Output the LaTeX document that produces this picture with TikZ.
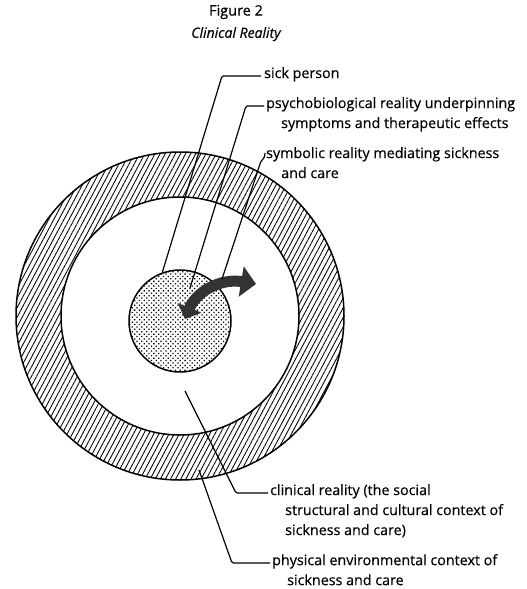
\documentclass[tikz,border=0pt]{standalone}
\usepackage{fontspec}
\setmainfont{Open Sans}[FakeBold=0.4]
\usetikzlibrary{patterns.meta,arrows.meta,positioning}

\begin{document}
\begin{tikzpicture}[
    x=1pt, y=-1pt,
    ring/.style={circle, draw, line width=1.5pt, inner sep=0pt},
    lbl/.style={inner sep=0pt, anchor=north west, align=left, font=\fontsize{14.3}{20}\selectfont},
    lead/.style={line width=1.2pt, rounded corners=1.5pt},
    twoway/.style={line width=11pt, draw=black!80, {Triangle[width=25pt,length=12pt]}-{Triangle[width=30pt,length=15pt]}}
]
\useasboundingbox (0,0) rectangle (527,589);

% title
\node[font=\fontsize{14.5}{16}\selectfont] (fig) at (236,12) {Figure 2};
\node[font=\itshape\fontsize{14}{16}\selectfont, below=1pt of fig] (title) {Clinical Reality};

% circles
\coordinate (c) at (180,316);
\node[ring, minimum size=328pt, pattern={Lines[angle=62,distance=4.5pt,line width=0.85pt]}] (outer) at (c) {};
\node[ring, minimum size=238pt, fill=white] (inner) at (c) {};
\node[ring, minimum size=102pt, pattern={Dots[distance=3.4pt,radius=0.9pt,angle=45]}] (person) at (180,321) {};

% two-way arrow
\coordinate (arr-a) at (185,319);
\coordinate (arr-b) at (256,284);
\draw[twoway] (arr-a) .. controls (196,292) and (220,278) .. (arr-b);

% labels
\node[lbl] (sick) at (264,67) {sick person};
\node[lbl] (psy) at (266,97) {psychobiological reality underpinning\\\hspace{1.05em}symptoms and therapeutic effects};
\node[lbl] (sym) at (266,147) {symbolic reality mediating sickness\\\hspace{1.05em}and care};
\node[lbl] (clin) at (270,484) {clinical reality (the social\\\hspace{1.05em}structural and cultural context of\\\hspace{1.05em}sickness and care)};
\node[lbl] (phys) at (272,554) {physical environmental context of\\\hspace{1.05em}sickness and care};

% leader ends
\coordinate (psy-end) at (190,288);
\coordinate (sym-end) at (222,279);
\coordinate (clin-end) at (185,391);
\coordinate (phys-end) at (199,470);

% leaders
\draw[lead] (person.110) -- (222,76) -- ([xshift=-3pt,yshift=-9pt]sick.north west);
\draw[lead] (psy-end) -- (246,106) -- ([xshift=-2pt,yshift=-9pt]psy.north west);
\draw[lead] (sym-end) -- (261,161) to[bend right=25] ([xshift=-1pt,yshift=-6pt]sym.north west);
\draw[lead] (clin-end) -- (236,493) -- ([xshift=-2pt,yshift=-9pt]clin.north west);
\draw[lead] (phys-end) -- (232,563) -- ([xshift=-2pt,yshift=-9pt]phys.north west);
\end{tikzpicture}
\end{document}
